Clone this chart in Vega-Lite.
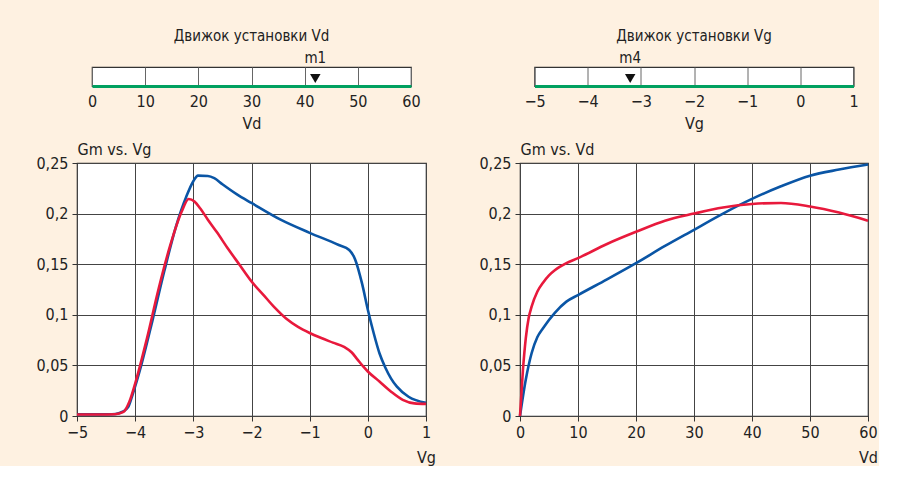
{
  "$schema": "https://vega.github.io/schema/vega-lite/v6.json",
  "background": "#fef1e1",
  "autosize": {"type": "pad"},
  "padding": {"left": 35, "top": 27, "right": 0, "bottom": 0},
  "config": {
    "font": "Liberation Sans Narrow, DejaVu Sans Condensed, sans-serif",
    "view": {"fill": "white", "stroke": "#333", "strokeWidth": 1.2},
    "axis": {
      "labelFont": "Liberation Sans Narrow, DejaVu Sans Condensed, sans-serif",
      "titleFont": "Liberation Sans Narrow, DejaVu Sans Condensed, sans-serif",
      "labelFontSize": 16,
      "titleFontSize": 16,
      "titleFontWeight": "normal",
      "labelColor": "#222",
      "titleColor": "#222",
      "gridColor": "#444",
      "gridOpacity": 1,
      "gridWidth": 1,
      "tickColor": "#333",
      "domain": false,
      "labelFlush": false,
      "labelOverlap": false
    },
    "title": {"font": "Liberation Sans Narrow, DejaVu Sans Condensed, sans-serif", "fontSize": 15, "fontWeight": "normal", "color": "#222"},
    "text": {"font": "Liberation Sans Narrow, DejaVu Sans Condensed, sans-serif"}
  },
  "datasets": {
    "vg": [
      {"Vg": -5.0, "Gm": 0.0016, "s": "s1"},
      {"Vg": -4.6, "Gm": 0.0016, "s": "s1"},
      {"Vg": -4.4, "Gm": 0.0017, "s": "s1"},
      {"Vg": -4.27, "Gm": 0.003, "s": "s1"},
      {"Vg": -4.12, "Gm": 0.009, "s": "s1"},
      {"Vg": -4.04, "Gm": 0.022, "s": "s1"},
      {"Vg": -3.92, "Gm": 0.045, "s": "s1"},
      {"Vg": -3.7, "Gm": 0.095, "s": "s1"},
      {"Vg": -3.5, "Gm": 0.143, "s": "s1"},
      {"Vg": -3.3, "Gm": 0.187, "s": "s1"},
      {"Vg": -3.12, "Gm": 0.217, "s": "s1"},
      {"Vg": -3.0, "Gm": 0.232, "s": "s1"},
      {"Vg": -2.92, "Gm": 0.2375, "s": "s1"},
      {"Vg": -2.75, "Gm": 0.2372, "s": "s1"},
      {"Vg": -2.64, "Gm": 0.235, "s": "s1"},
      {"Vg": -2.5, "Gm": 0.229, "s": "s1"},
      {"Vg": -2.25, "Gm": 0.219, "s": "s1"},
      {"Vg": -2.0, "Gm": 0.2105, "s": "s1"},
      {"Vg": -1.5, "Gm": 0.194, "s": "s1"},
      {"Vg": -1.0, "Gm": 0.181, "s": "s1"},
      {"Vg": -0.5, "Gm": 0.169, "s": "s1"},
      {"Vg": -0.32, "Gm": 0.164, "s": "s1"},
      {"Vg": -0.22, "Gm": 0.155, "s": "s1"},
      {"Vg": -0.1, "Gm": 0.131, "s": "s1"},
      {"Vg": 0.0, "Gm": 0.105, "s": "s1"},
      {"Vg": 0.1, "Gm": 0.082, "s": "s1"},
      {"Vg": 0.2, "Gm": 0.062, "s": "s1"},
      {"Vg": 0.3, "Gm": 0.048, "s": "s1"},
      {"Vg": 0.4, "Gm": 0.037, "s": "s1"},
      {"Vg": 0.5, "Gm": 0.029, "s": "s1"},
      {"Vg": 0.7, "Gm": 0.019, "s": "s1"},
      {"Vg": 1.0, "Gm": 0.013, "s": "s1"},
      {"Vg": -5.0, "Gm": 0.0015, "s": "s2"},
      {"Vg": -4.6, "Gm": 0.0015, "s": "s2"},
      {"Vg": -4.35, "Gm": 0.0018, "s": "s2"},
      {"Vg": -4.2, "Gm": 0.004, "s": "s2"},
      {"Vg": -4.1, "Gm": 0.014, "s": "s2"},
      {"Vg": -4.0, "Gm": 0.032, "s": "s2"},
      {"Vg": -3.8, "Gm": 0.076, "s": "s2"},
      {"Vg": -3.6, "Gm": 0.125, "s": "s2"},
      {"Vg": -3.4, "Gm": 0.168, "s": "s2"},
      {"Vg": -3.2, "Gm": 0.202, "s": "s2"},
      {"Vg": -3.08, "Gm": 0.2145, "s": "s2"},
      {"Vg": -2.98, "Gm": 0.212, "s": "s2"},
      {"Vg": -2.88, "Gm": 0.205, "s": "s2"},
      {"Vg": -2.75, "Gm": 0.194, "s": "s2"},
      {"Vg": -2.6, "Gm": 0.182, "s": "s2"},
      {"Vg": -2.4, "Gm": 0.165, "s": "s2"},
      {"Vg": -2.2, "Gm": 0.149, "s": "s2"},
      {"Vg": -2.0, "Gm": 0.133, "s": "s2"},
      {"Vg": -1.8, "Gm": 0.12, "s": "s2"},
      {"Vg": -1.6, "Gm": 0.107, "s": "s2"},
      {"Vg": -1.4, "Gm": 0.096, "s": "s2"},
      {"Vg": -1.2, "Gm": 0.088, "s": "s2"},
      {"Vg": -1.0, "Gm": 0.082, "s": "s2"},
      {"Vg": -0.8, "Gm": 0.077, "s": "s2"},
      {"Vg": -0.6, "Gm": 0.0725, "s": "s2"},
      {"Vg": -0.4, "Gm": 0.068, "s": "s2"},
      {"Vg": -0.28, "Gm": 0.063, "s": "s2"},
      {"Vg": -0.18, "Gm": 0.056, "s": "s2"},
      {"Vg": -0.08, "Gm": 0.049, "s": "s2"},
      {"Vg": 0.0, "Gm": 0.044, "s": "s2"},
      {"Vg": 0.2, "Gm": 0.034, "s": "s2"},
      {"Vg": 0.4, "Gm": 0.024, "s": "s2"},
      {"Vg": 0.6, "Gm": 0.016, "s": "s2"},
      {"Vg": 0.8, "Gm": 0.0125, "s": "s2"},
      {"Vg": 1.0, "Gm": 0.012, "s": "s2"}
    ],
    "vd": [
      {"Vd": 0, "Gm": 0.0, "s": "s1"},
      {"Vd": 1, "Gm": 0.036, "s": "s1"},
      {"Vd": 2, "Gm": 0.062, "s": "s1"},
      {"Vd": 3, "Gm": 0.078, "s": "s1"},
      {"Vd": 4, "Gm": 0.087, "s": "s1"},
      {"Vd": 6, "Gm": 0.102, "s": "s1"},
      {"Vd": 8, "Gm": 0.113, "s": "s1"},
      {"Vd": 10, "Gm": 0.1195, "s": "s1"},
      {"Vd": 15, "Gm": 0.135, "s": "s1"},
      {"Vd": 20, "Gm": 0.151, "s": "s1"},
      {"Vd": 25, "Gm": 0.168, "s": "s1"},
      {"Vd": 30, "Gm": 0.184, "s": "s1"},
      {"Vd": 35, "Gm": 0.2, "s": "s1"},
      {"Vd": 40, "Gm": 0.2145, "s": "s1"},
      {"Vd": 45, "Gm": 0.227, "s": "s1"},
      {"Vd": 50, "Gm": 0.2375, "s": "s1"},
      {"Vd": 55, "Gm": 0.2435, "s": "s1"},
      {"Vd": 60, "Gm": 0.2485, "s": "s1"},
      {"Vd": 0, "Gm": 0.0, "s": "s2"},
      {"Vd": 0.5, "Gm": 0.045, "s": "s2"},
      {"Vd": 1, "Gm": 0.077, "s": "s2"},
      {"Vd": 1.5, "Gm": 0.097, "s": "s2"},
      {"Vd": 2, "Gm": 0.108, "s": "s2"},
      {"Vd": 3, "Gm": 0.123, "s": "s2"},
      {"Vd": 4, "Gm": 0.132, "s": "s2"},
      {"Vd": 5, "Gm": 0.139, "s": "s2"},
      {"Vd": 6, "Gm": 0.144, "s": "s2"},
      {"Vd": 8, "Gm": 0.151, "s": "s2"},
      {"Vd": 10, "Gm": 0.156, "s": "s2"},
      {"Vd": 15, "Gm": 0.17, "s": "s2"},
      {"Vd": 20, "Gm": 0.182, "s": "s2"},
      {"Vd": 25, "Gm": 0.193, "s": "s2"},
      {"Vd": 30, "Gm": 0.2, "s": "s2"},
      {"Vd": 35, "Gm": 0.206, "s": "s2"},
      {"Vd": 40, "Gm": 0.2095, "s": "s2"},
      {"Vd": 45, "Gm": 0.2105, "s": "s2"},
      {"Vd": 50, "Gm": 0.207, "s": "s2"},
      {"Vd": 55, "Gm": 0.201, "s": "s2"},
      {"Vd": 60, "Gm": 0.193, "s": "s2"}
    ],
    "m1": [{"Vd": 42, "label": "m1"}],
    "m4": [{"Vg": -3.2, "label": "m4"}]
  },
  "spacing": 41,
  "bounds": "full",
  "hconcat": [
    {
      "spacing": 77,
      "bounds": "flush",
      "center": true,
      "vconcat": [
        {
          "width": 319,
          "height": 19,
          "title": {"text": "Движок установки Vd", "baseline": "bottom", "offset": -8},
          "data": {"name": "m1"},
          "layer": [
            {
              "mark": {"type": "point", "shape": "triangle-down", "filled": true, "color": "#111", "opacity": 1, "size": 110, "yOffset": 2},
              "encoding": {
                "x": {
                  "field": "Vd", "type": "quantitative",
                  "scale": {"domain": [0, 60], "nice": false, "zero": false},
                  "axis": {"values": [0, 10, 20, 30, 40, 50, 60], "grid": true, "gridColor": "#666", "ticks": false, "domain": true, "domainColor": "#00a060", "domainWidth": 3, "labelPadding": 7, "title": "Vd", "titlePadding": 6}
                }
              }
            },
            {
              "mark": {"type": "text", "dy": -19, "fontSize": 15, "color": "#222"},
              "encoding": {
                "x": {"field": "Vd", "type": "quantitative"},
                "text": {"field": "label"}
              }
            }
          ]
        },
        {
          "width": 349,
          "height": 253,
          "data": {"name": "vg"},
          "mark": {"type": "line", "strokeWidth": 2.6, "interpolate": "monotone"},
          "encoding": {
            "x": {
              "field": "Vg", "type": "quantitative",
              "scale": {"domain": [-5, 1], "nice": false, "zero": false},
              "axis": {"values": [-5, -4, -3, -2, -1, 0, 1], "grid": true, "tickSize": 5, "labelPadding": 3, "title": "Vg", "titleX": 349, "titleY": 33, "titleAlign": "center", "titleBaseline": "top"}
            },
            "y": {
              "field": "Gm", "type": "quantitative",
              "scale": {"domain": [0, 0.25], "nice": false},
              "axis": {"values": [0, 0.05, 0.1, 0.15, 0.2, 0.25], "labelExpr": "replace(format(datum.value, ''), '.', ',')", "grid": true, "tickSize": 5, "labelPadding": 4, "title": "Gm vs. Vg", "titleAngle": 0, "titleX": 0, "titleY": -9, "titleAlign": "left", "titleBaseline": "alphabetic"}
            },
            "color": {"field": "s", "type": "nominal", "scale": {"domain": ["s1", "s2"], "range": ["#0a55a5", "#e8193c"]}, "legend": null}
          }
        }
      ]
    },
    {
      "spacing": 77,
      "bounds": "flush",
      "center": true,
      "vconcat": [
        {
          "width": 319,
          "height": 19,
          "title": {"text": "Движок установки Vg", "baseline": "bottom", "offset": -8},
          "data": {"name": "m4"},
          "layer": [
            {
              "mark": {"type": "point", "shape": "triangle-down", "filled": true, "color": "#111", "opacity": 1, "size": 110, "yOffset": 2},
              "encoding": {
                "x": {
                  "field": "Vg", "type": "quantitative",
                  "scale": {"domain": [-5, 1], "nice": false, "zero": false},
                  "axis": {"values": [-5, -4, -3, -2, -1, 0, 1], "grid": true, "gridColor": "#666", "ticks": false, "domain": true, "domainColor": "#00a060", "domainWidth": 3, "labelPadding": 7, "title": "Vg", "titlePadding": 6}
                }
              }
            },
            {
              "mark": {"type": "text", "dy": -19, "fontSize": 15, "color": "#222"},
              "encoding": {
                "x": {"field": "Vg", "type": "quantitative"},
                "text": {"field": "label"}
              }
            }
          ]
        },
        {
          "width": 348,
          "height": 253,
          "data": {"name": "vd"},
          "mark": {"type": "line", "strokeWidth": 2.6, "interpolate": "monotone"},
          "encoding": {
            "x": {
              "field": "Vd", "type": "quantitative",
              "scale": {"domain": [0, 60], "nice": false, "zero": false},
              "axis": {"values": [0, 10, 20, 30, 40, 50, 60], "grid": true, "tickSize": 5, "labelPadding": 3, "title": "Vd", "titleX": 348, "titleY": 33, "titleAlign": "center", "titleBaseline": "top"}
            },
            "y": {
              "field": "Gm", "type": "quantitative",
              "scale": {"domain": [0, 0.25], "nice": false},
              "axis": {"values": [0, 0.05, 0.1, 0.15, 0.2, 0.25], "labelExpr": "replace(format(datum.value, ''), '.', ',')", "grid": true, "tickSize": 5, "labelPadding": 4, "title": "Gm vs. Vd", "titleAngle": 0, "titleX": 0, "titleY": -9, "titleAlign": "left", "titleBaseline": "alphabetic"}
            },
            "color": {"field": "s", "type": "nominal", "scale": {"domain": ["s1", "s2"], "range": ["#0a55a5", "#e8193c"]}, "legend": null}
          }
        }
      ]
    }
  ]
}
